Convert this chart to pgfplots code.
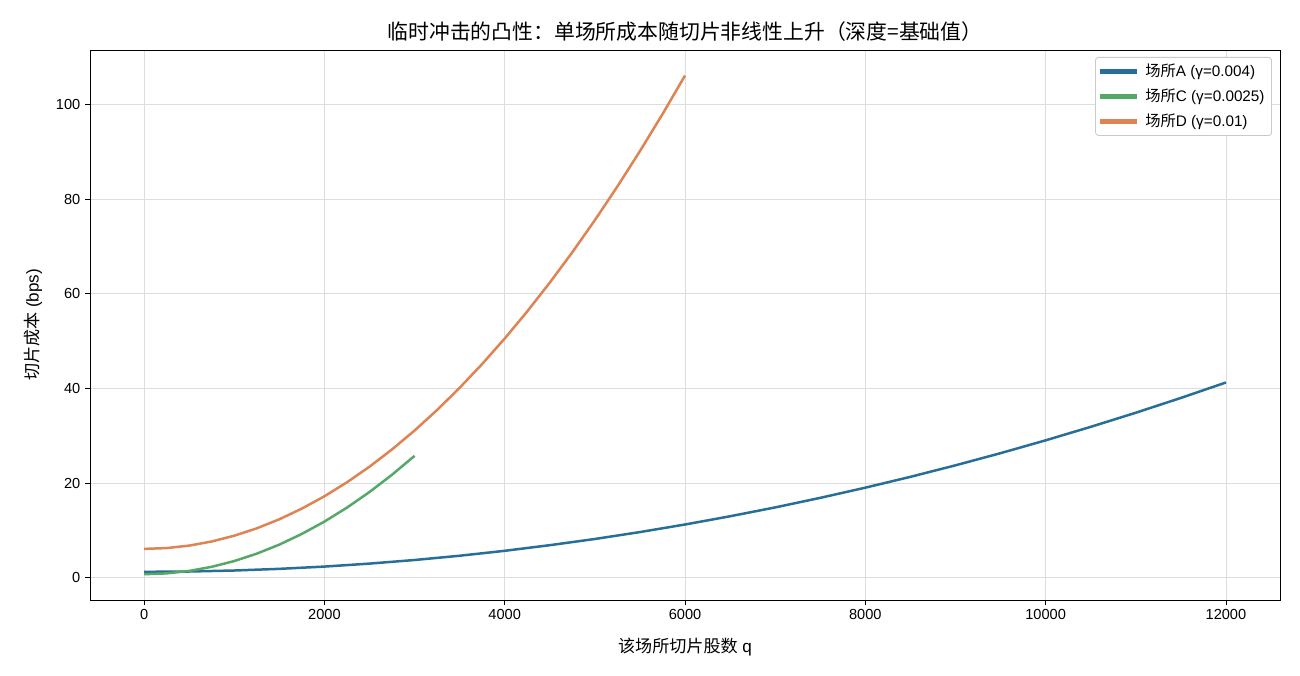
\documentclass[border=0pt]{standalone}
\usepackage{fontspec}
\setmainfont{Liberation Sans}
\newfontfamily\cjk{Noto Sans CJK SC}
\usepackage{pgfplots}
\pgfplotsset{compat=1.18}
\definecolor{cA}{HTML}{276F98}
\definecolor{cC}{HTML}{55A868}
\definecolor{cD}{HTML}{DD8452}
\definecolor{gridc}{HTML}{DDDDDD}
\begin{document}
\begin{tikzpicture}
\begin{axis}[
  scale only axis,
  width=856.8pt, height=396pt,
  xmin=-600, xmax=12600,
  ymin=-4.7, ymax=111.5,
  xtick={0,2000,4000,6000,8000,10000,12000},
  ytick={0,20,40,60,80,100},
  scaled x ticks=false,
  scaled y ticks=false,
  /pgf/number format/1000 sep={},
  /pgf/number format/assume math mode=true,
  tick label style={font=\fontsize{10.5}{12}\selectfont},
  tick align=outside,
  tick pos=left,
  major tick length=3.5pt,
  every tick/.style={black, line width=0.6pt},
  axis line style={black, line width=0.6pt},
  grid=major,
  grid style={gridc, line width=0.5pt},
  title={\cjk\fontsize{15}{18}\selectfont 临时冲击的凸性：单场所成本随切片非线性上升（深度=基础值）},
  title style={yshift=-3.5pt},
  xlabel={{\cjk 该场所切片股数} q},
  ylabel={{\cjk 切片成本} (bps)},
  label style={font=\fontsize{12.3}{14}\selectfont},
  xlabel style={yshift=-6pt},
  ylabel style={yshift=3pt},
  legend style={at={(1,1)}, anchor=north east, xshift=-5.8pt, yshift=-5pt,
    font=\fontsize{11}{13}\selectfont, draw=gridc!80!gray, rounded corners=2pt,
    line width=0.6pt, inner xsep=3pt, inner ysep=3pt, row sep=3.2pt,
    /tikz/every odd column/.append style={column sep=4pt}},
  legend cell align=left,
  legend image code/.code={\fill[#1, sharp corners] (0pt,-0.9pt) rectangle (25pt,0.9pt);},
]
\addplot[cA, line width=1.8pt] coordinates {
(0,1.25) (500,1.32) (1000,1.53) (1500,1.88) (2000,2.36) (2500,2.99) (3000,3.75) (3500,4.65) (4000,5.69) (4500,6.88) (5000,8.19) (5500,9.65) (6000,11.25) (6500,12.99) (7000,14.86) (7500,16.88) (8000,19.03) (8500,21.32) (9000,23.75) (9500,26.32) (10000,29.03) (10500,31.88) (11000,34.86) (11500,37.99) (12000,41.25)};
\addlegendentry{{\cjk 场所}A (γ=0.004)}
\addplot[cC, line width=1.8pt] coordinates {
(0,0.75) (250,0.92) (500,1.44) (750,2.31) (1000,3.53) (1250,5.09) (1500,7.00) (1750,9.26) (2000,11.86) (2250,14.81) (2500,18.11) (2750,21.76) (3000,25.75)};
\addlegendentry{{\cjk 场所}C (γ=0.0025)}
\addplot[cD, line width=1.8pt] coordinates {
(0,6.10) (250,6.27) (500,6.79) (750,7.66) (1000,8.88) (1250,10.44) (1500,12.35) (1750,14.61) (2000,17.21) (2250,20.16) (2500,23.46) (2750,27.11) (3000,31.10) (3250,35.44) (3500,40.13) (3750,45.16) (4000,50.54) (4250,56.27) (4500,62.35) (4750,68.77) (5000,75.54) (5250,82.66) (5500,90.13) (5750,97.94) (6000,106.10)};
\addlegendentry{{\cjk 场所}D (γ=0.01)}
\end{axis}
\path (-64.8pt,-54.72pt) rectangle (871.2pt,432pt);
\end{tikzpicture}
\end{document}
